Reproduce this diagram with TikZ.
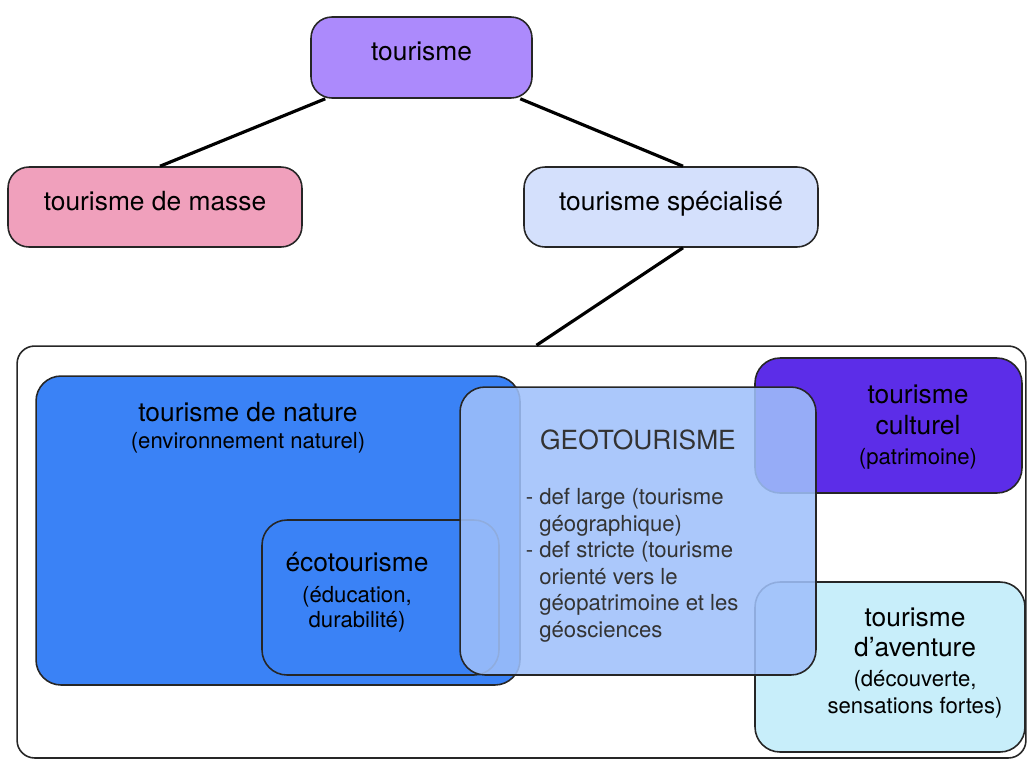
\documentclass[tikz,border=0pt]{standalone}
\usepackage{fontspec}
\setmainfont{TeX Gyre Heros}

\definecolor{violetclair}{RGB}{172,138,252}
\definecolor{rosemasse}{RGB}{240,160,188}
\definecolor{bleuspec}{RGB}{212,224,252}
\definecolor{bleunature}{RGB}{58,130,246}
\definecolor{bleugeo}{RGB}{159,192,250}
\definecolor{violetculture}{RGB}{92,45,232}
\definecolor{cyanaventure}{RGB}{200,238,250}

\newcommand{\petit}{\fontsize{12.6}{15}\selectfont}

\tikzset{
	boite/.style={draw=black!85, line width=0.9pt, rounded corners=0.42cm, inner sep=0pt, text height=10.5pt, text depth=6.7pt, font=\fontsize{15}{17}\selectfont},
	zone/.style={draw=black!85, line width=0.9pt, rounded corners=0.5cm, inner sep=0pt},
	lien/.style={line width=1.8pt},
	titre/.style={align=center, inner sep=0pt, font=\fontsize{15}{17}\selectfont},
}

\begin{document}
\begin{tikzpicture}[x=0.02cm, y=-0.02cm]
	\useasboundingbox (0,0) rectangle (1027,762);
	\clip (0,0) rectangle (1027,762); % the frame runs off the page
	
	% arbre du haut
	\node[boite, fill=violetclair, minimum width=4.42cm, minimum height=1.62cm] (tourisme) at (421.5,57.5) {tourisme};
	\node[boite, fill=rosemasse, minimum width=5.88cm, minimum height=1.6cm] (masse) at (155,207) {tourisme de masse};
	\node[boite, fill=bleuspec, minimum width=5.88cm, minimum height=1.6cm] (specialise) at (671,207) {tourisme spécialisé};
	
	\draw[lien] ([xshift=0.3cm]tourisme.south west) -- ([xshift=0.1cm]masse.north);
	\draw[lien] ([xshift=-0.25cm]tourisme.south east) -- ([xshift=0.24cm]specialise.north);
	
	% cadre et zones
	\node[zone, rounded corners=0.35cm, minimum width=20.18cm, minimum height=8.24cm] (cadre) at (521.5,552) {};
	\draw[lien] ([xshift=0.24cm]specialise.south) -- ([xshift=0.3cm]cadre.north);
	
	\node[zone, fill=bleunature, minimum width=9.68cm, minimum height=6.18cm] (nature) at (278,530.5) {};
	\node[zone, fill=bleunature, minimum width=4.74cm, minimum height=3.1cm] (eco) at (380.5,597.5) {};
	\node[zone, fill=violetculture, minimum width=5.34cm, minimum height=2.7cm] (culturel) at (888.5,425.5) {};
	\node[zone, fill=cyanaventure, minimum width=5.4cm, minimum height=3.4cm] (aventure) at (890,667) {};
	\node[zone, fill=bleugeo, fill opacity=0.87, minimum width=7.12cm, minimum height=5.76cm] (geo) at (638,531) {};
	
	% textes
	\node[titre] (lnature) at (248,428) {tourisme de nature\\[-1.7pt]{\petit (environnement naturel)}};
	\node[titre] (leco) at (357,592) {écotourisme\\[0.6pt]{\petit (éducation,}\\[-2.8pt]{\petit durabilité)}};
	\node[titre] (lculturel) at (918,427) {tourisme\\[1pt]culturel\\{\petit (patrimoine)}};
	\node[titre] (laventure) at (915,663) {tourisme\\d’aventure\\{\petit (découverte,}\\[-1.7pt]{\petit sensations fortes)}};
	\node[titre, text=black!80] (lgeo) at (638,440) {GEOTOURISME};
	\node[anchor=north west, align=left, inner sep=0pt, text=black!80, font=\fontsize{12.6}{15.1}\selectfont] (geoliste) at (539,488)
		{\llap{- }def large (tourisme\\géographique)\\\llap{- }def stricte (tourisme\\orienté vers le\\géopatrimoine et les\\géosciences};
\end{tikzpicture}
\end{document}
